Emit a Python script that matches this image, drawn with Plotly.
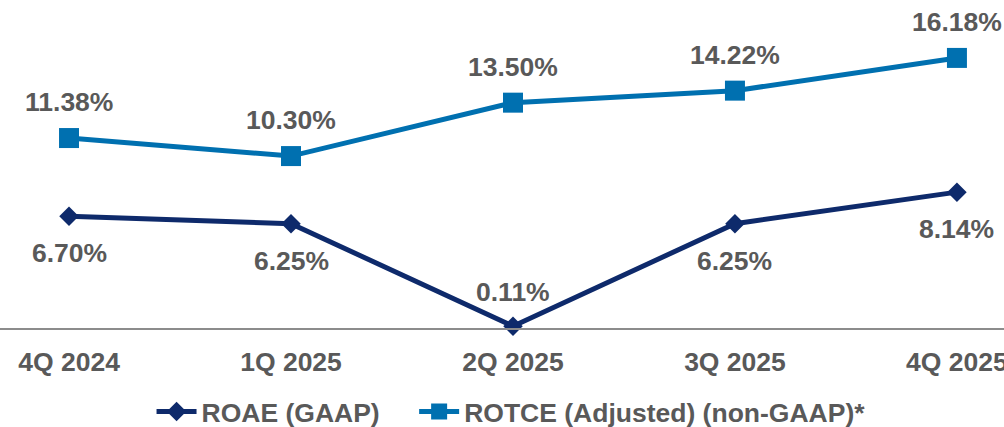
import plotly.graph_objects as go

quarters = ["4Q 2024", "1Q 2025", "2Q 2025", "3Q 2025", "4Q 2025"]
roae = [6.70, 6.25, 0.11, 6.25, 8.14]
rotce = [11.38, 10.30, 13.50, 14.22, 16.18]
roae_label_shift = [-37, -37, 34, -37, -37]

NAVY = "#0e2a6b"
BLUE = "#0070b0"
GRAY = "#595959"
FONT = "Liberation Sans, Arial, sans-serif"
FS = 26.5

fig = go.Figure()
fig.add_trace(go.Scatter(
    x=quarters, y=roae, mode="lines+markers", name="ROAE (GAAP)\u00a0\u00a0\u00a0\u00a0",
    line=dict(color=NAVY, width=5),
    marker=dict(symbol="diamond", size=15, color=NAVY),
    cliponaxis=False,
))
fig.add_trace(go.Scatter(
    x=quarters, y=rotce, mode="lines+markers", name="ROTCE (Adjusted) (non-GAAP)*",
    line=dict(color=BLUE, width=5),
    marker=dict(symbol="square", size=20, color=BLUE),
    cliponaxis=False,
))

for q, v, s in zip(quarters, roae, roae_label_shift):
    fig.add_annotation(x=q, y=v, text=f"<b>{v:.2f}%</b>", showarrow=False,
                       yshift=s, font=dict(family=FONT, size=FS, color=GRAY))
for q, v in zip(quarters, rotce):
    fig.add_annotation(x=q, y=v, text=f"<b>{v:.2f}%</b>", showarrow=False,
                       yshift=36, font=dict(family=FONT, size=FS, color=GRAY))

fig.update_layout(
    width=1004, height=427,
    margin=dict(l=0, r=0, t=0, b=99, autoexpand=False),
    paper_bgcolor="white", plot_bgcolor="white",
    font=dict(family=FONT, size=FS, color=GRAY),
    showlegend=True,
    legend=dict(orientation="h", x=0.509, xanchor="center", y=-0.182, yanchor="top",
                font=dict(family=FONT, size=FS, color=GRAY, weight="bold"),
                itemwidth=40, tracegroupgap=0),
    xaxis=dict(type="category", range=[-0.311, 4.212], showgrid=False, zeroline=False,
               automargin=False,
               showline=True, linecolor="#8c8c8c", linewidth=2,
               ticks="", ticklabelstandoff=9, ticklabeloverflow="allow",
               tickfont=dict(family=FONT, size=FS, color=GRAY, weight="bold")),
    yaxis=dict(range=[0, 19.65], visible=False, showgrid=False, zeroline=False,
               automargin=False),
)

fig.write_html("out.html", config={"displayModeBar": False},
               post_script="document.body.style.margin='0';document.body.style.overflow='hidden';")
